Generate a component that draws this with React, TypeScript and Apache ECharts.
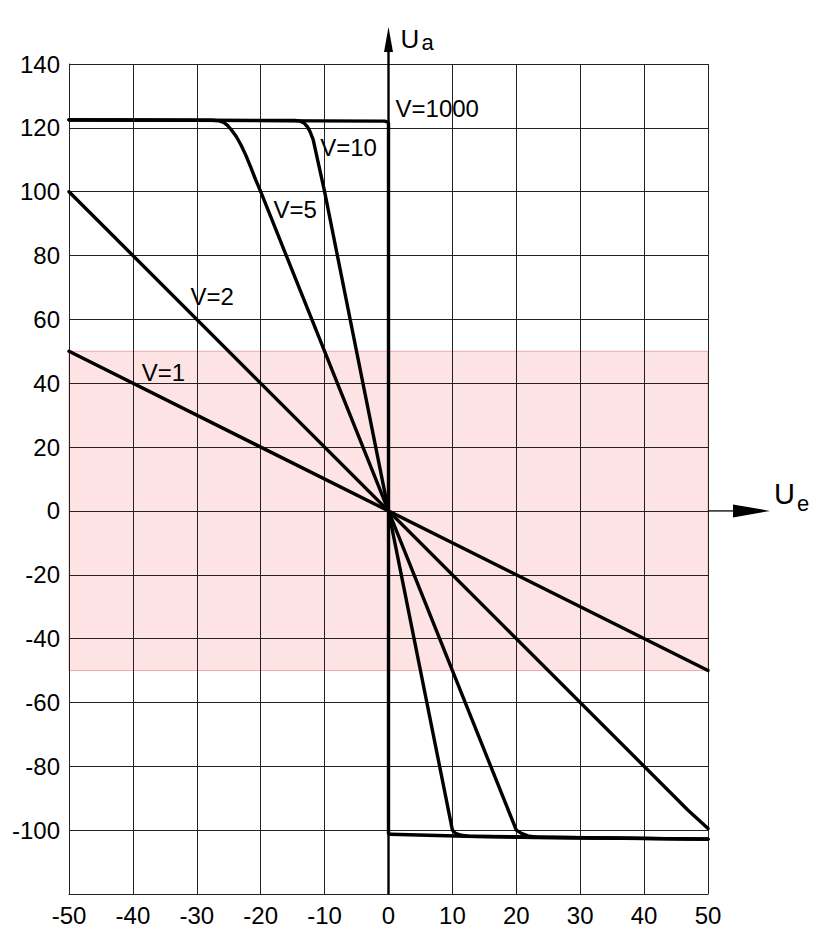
import React, { useEffect, useRef } from 'react';
import * as echarts from 'echarts';

// Axis ranges / ticks
const xMin = -50;
const xMax = 50;
const xStep = 10;
const yMin = -120;
const yMax = 140;
const yStep = 20;
const hiddenYTicks = [-120];

// Transfer curves Ua(Ue) for different gains V
const curveV1 = [[-50, 50], [50, -50]];
const curveV2 = [[-50, 100], [46.8, -93.6], [47.6, -95.1], [48.6, -96.9], [50, -99.5]];
const curveV5 = [
  [-50, 122.5], [-27.5, 122.4], [-26.5, 122.2], [-25.8, 121.7], [-25.2, 120.8], [-24.6, 119.4],
  [-23.8, 117.2], [-23.1, 114.7], [-22.3, 111.3], [-21.5, 107.4], [-20.8, 103.8], [-20, 100],
  [20, -100], [20.8, -101], [21.8, -101.8], [23.2, -102.2], [50, -102.8],
];
const curveV10 = [
  [-50, 122.5], [-14.6, 122.3], [-13.8, 122.1], [-13.2, 121.5], [-12.7, 120.4], [-12.3, 118.9],
  [-11.8, 116.4], [-10, 100], [10, -100], [10.5, -101], [11.4, -101.6], [12.5, -101.9], [50, -102.8],
];
const curveV1000 = [
  [-50, 122.5], [-0.6, 122.1], [-0.1, 121.8], [0, 121.3], [0, -101.1], [0.3, -101.3],
  [12, -101.9], [23, -102.3], [50, -102.8],
];
const curves = [curveV1, curveV2, curveV5, curveV10, curveV1000];

// Curve labels (text, anchor in data coordinates: left edge, vertical middle)
const curveLabels = ['V=1000', 'V=10', 'V=5', 'V=2', 'V=1'];
const curveLabelPos = [[1.1, 126.2], [-10.7, 113.7], [-18.0, 94.3], [-31.0, 67.1], [-38.6, 43.4]];

// Shaded band
const bandRange = [-50, 50];

const FONT = '"Liberation Sans", Arial, Helvetica, sans-serif';

export default function App() {
  const ref = useRef<HTMLDivElement>(null);

  useEffect(() => {
    if (!ref.current) return;
    const chart = echarts.init(ref.current, undefined, { renderer: 'svg' });

    const curveSeries = curves.map((data, i) => ({
      type: 'line',
      name: 'c' + i,
      data,
      showSymbol: false,
      symbol: 'none',
      smooth: false,
      silent: true,
      z: 3,
      lineStyle: { color: '#000', width: 3.4, join: 'round', cap: 'round' },
    }));

    const option: any = {
      animation: false,
      backgroundColor: '#fff',
      grid: { left: 69, right: 125, top: 64, bottom: 42, containLabel: false, outerBoundsMode: 'none' },
      xAxis: {
        type: 'value',
        min: xMin,
        max: xMax,
        interval: xStep,
        z: 2,
        axisLine: { show: true, onZero: false, lineStyle: { color: '#222', width: 1 } },
        axisTick: { show: false },
        axisLabel: { color: '#000', fontSize: 24, fontFamily: FONT, margin: 9 },
        splitLine: { show: true, lineStyle: { color: '#222', width: 1 } },
      },
      yAxis: {
        type: 'value',
        min: yMin,
        max: yMax,
        interval: yStep,
        z: 2,
        axisLine: { show: true, onZero: false, lineStyle: { color: '#222', width: 1 } },
        axisTick: { show: false },
        axisLabel: {
          color: '#000',
          fontSize: 24,
          fontFamily: FONT,
          margin: 9,
          formatter: (v: number) => (hiddenYTicks.includes(v) ? '' : String(v)),
        },
        splitLine: { show: true, lineStyle: { color: '#222', width: 1 } },
      },
      series: [
        {
          type: 'line',
          name: 'band',
          data: [],
          z: 1,
          silent: true,
          markArea: {
            silent: true,
            z: 1,
            itemStyle: { color: '#fde3e4', borderColor: '#f2a9ac', borderWidth: 1 },
            data: [[{ yAxis: bandRange[0] }, { yAxis: bandRange[1] }]],
          },
        },
        ...curveSeries,
      ],
    };
    chart.setOption(option);

    const px = (p: number[]) => chart.convertToPixel({ gridIndex: 0 }, p) as number[];
    const origin = px([0, 0]);
    const top = px([0, yMax]);
    const bottom = px([0, yMin]);
    const right = px([xMax, 0]);

    const graphics: any[] = [];
    // vertical Ua axis with arrow
    graphics.push({
      type: 'line',
      z: 10,
      shape: { x1: origin[0], y1: bottom[1], x2: origin[0], y2: top[1] - 20 },
      style: { stroke: '#000', lineWidth: 2.4 },
    });
    graphics.push({
      type: 'polygon',
      z: 10,
      shape: {
        points: [
          [origin[0], top[1] - 37],
          [origin[0] - 4.5, top[1] - 12],
          [origin[0] + 4.5, top[1] - 12],
        ],
      },
      style: { fill: '#000' },
    });
    // horizontal Ue axis extension with arrow
    graphics.push({
      type: 'line',
      z: 10,
      shape: { x1: right[0], y1: origin[1], x2: right[0] + 30, y2: origin[1] },
      style: { stroke: '#000', lineWidth: 1.3 },
    });
    graphics.push({
      type: 'polygon',
      z: 10,
      shape: {
        points: [
          [right[0] + 62, origin[1]],
          [right[0] + 25, origin[1] - 6.5],
          [right[0] + 25, origin[1] + 6.5],
        ],
      },
      style: { fill: '#000' },
    });
    // axis titles
    graphics.push({
      type: 'text',
      z: 10,
      x: origin[0] + 12,
      y: top[1] - 12,
      style: { text: 'U', fill: '#000', font: `26px ${FONT}`, textVerticalAlign: 'bottom' },
    });
    graphics.push({
      type: 'text',
      z: 10,
      x: origin[0] + 33,
      y: top[1] - 11,
      style: { text: 'a', fill: '#000', font: `22px ${FONT}`, textVerticalAlign: 'bottom' },
    });
    graphics.push({
      type: 'text',
      z: 10,
      x: right[0] + 66,
      y: origin[1] - 2,
      style: { text: 'U', fill: '#000', font: `29px ${FONT}`, textVerticalAlign: 'bottom' },
    });
    graphics.push({
      type: 'text',
      z: 10,
      x: right[0] + 89,
      y: origin[1] + 4,
      style: { text: 'e', fill: '#000', font: `22px ${FONT}`, textVerticalAlign: 'bottom' },
    });
    // curve labels
    curveLabels.forEach((t, i) => {
      const p = px(curveLabelPos[i]);
      graphics.push({
        type: 'text',
        z: 10,
        x: p[0],
        y: p[1],
        style: { text: t, fill: '#000', font: `24px ${FONT}`, textVerticalAlign: 'middle', textAlign: 'left' },
      });
    });

    chart.setOption({ graphic: graphics });

    return () => chart.dispose();
  }, []);

  return (
    <div
      ref={ref}
      style={{ position: 'absolute', left: 0, top: 0, width: 833, height: 936, background: '#fff' }}
    />
  );
}
